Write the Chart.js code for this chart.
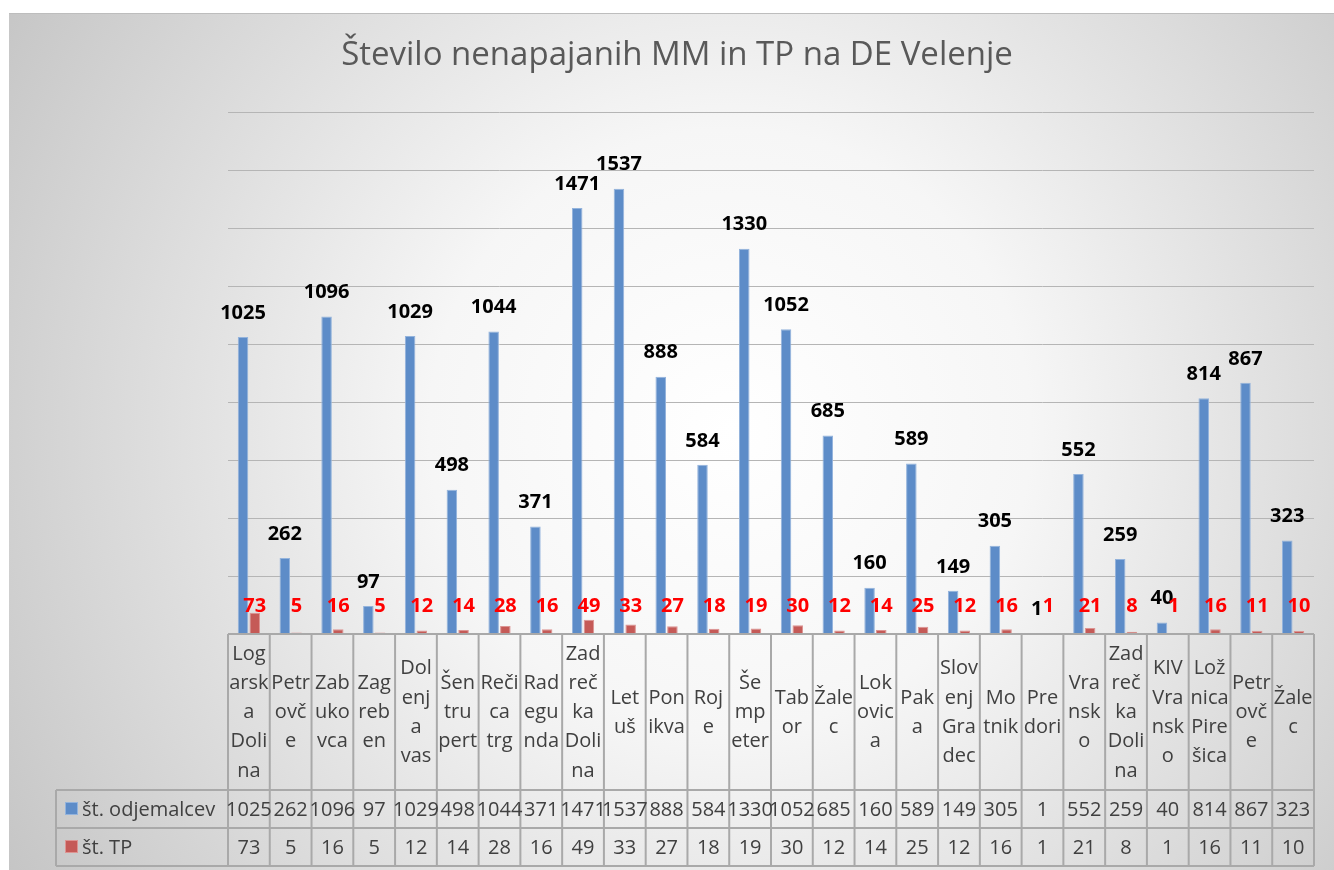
<!DOCTYPE html>
<html>
<head>
<meta charset="utf-8">
<script src="https://cdn.jsdelivr.net/npm/chart.js@4"></script>
<style>
  html, body { margin: 0; padding: 0; background: #fff; }
  #wrap { width: 1334px; height: 870px; position: relative; }
</style>
</head>
<body>
<div id="wrap"><canvas id="chart"></canvas></div>
<script>
// =========================
// Data
// =========================

const naslov = "Število nenapajanih MM in TP na DE Velenje";

const kategorije = [
    "Logarska Dolina", "Petrovče", "Zabukovca", "Zagreben", "Dolenja vas",
    "Šentrupert", "Rečica trg", "Radegunda", "Zadrečka Dolina", "Letuš",
    "Ponikva", "Roje", "Šempeter", "Tabor", "Žalec", "Lokovica", "Paka",
    "Slovenj Gradec", "Motnik", "Predori", "Vransko", "Zadrečka Dolina",
    "KIV Vransko", "Ložnica Pirešica", "Petrovče", "Žalec"
];

// category text as it wraps in the table cells
const oznake = [
    ["Log","arsk","a","Doli","na"], ["Petr","ovč","e"], ["Zab","uko","vca"],
    ["Zag","reb","en"], ["Dol","enj","a","vas"], ["Šen","tru","pert"],
    ["Reči","ca","trg"], ["Rad","egu","nda"], ["Zad","reč","ka","Doli","na"],
    ["Let","uš"], ["Pon","ikva"], ["Roj","e"], ["Še","mp","eter"],
    ["Tab","or"], ["Žale","c"], ["Lok","ovic","a"], ["Pak","a"],
    ["Slov","enj","Gra","dec"], ["Mo","tnik"], ["Pre","dori"],
    ["Vra","nsk","o"], ["Zad","reč","ka","Doli","na"], ["KIV","Vra","nsk","o"],
    ["Lož","nica","Pire","šica"], ["Petr","ovč","e"], ["Žale","c"]
];

const serijaOdjemalci = "št. odjemalcev";
const odjemalci = [1025, 262, 1096, 97, 1029, 498, 1044, 371, 1471, 1537, 888, 584, 1330,
                   1052, 685, 160, 589, 149, 305, 1, 552, 259, 40, 814, 867, 323];

const serijaTP = "št. TP";
const tp = [73, 5, 16, 5, 12, 14, 28, 16, 49, 33, 27, 18, 19,
            30, 12, 14, 25, 12, 16, 1, 21, 8, 1, 16, 11, 10];

const yMax = 1800;
const yKorak = 200;

// =========================
// Styles
// =========================

const MODRA = "#5d8cc8";
const MODRA_ROB = "#93b3dc";
const RDECA = "#c55a57";
const RDECA_ROB = "#dc9492";
const CRTA = "#a9a9a9";
const PISAVA = "'Open Sans', 'Noto Sans', sans-serif";

// =========================
// Plugins
// =========================

const ozadje = {
    id: "ozadje",
    beforeDraw(chart) {
        const ctx = chart.ctx;
        ctx.save();
        ctx.fillStyle = "#fff";
        ctx.fillRect(0, 0, chart.width, chart.height);
        const g = ctx.createRadialGradient(730, 430, 0, 730, 430, 860);
        g.addColorStop(0, "#ffffff");
        g.addColorStop(0.35, "#f6f6f6");
        g.addColorStop(1, "#c4c4c4");
        ctx.fillStyle = g;
        ctx.fillRect(9, 13, chart.width - 9, chart.height - 13);
        ctx.fillStyle = "#bdbdbd";
        ctx.fillRect(9, 13, chart.width - 9, 1);
        ctx.restore();
    }
};

const oznakeVrednosti = {
    id: "oznakeVrednosti",
    afterDatasetsDraw(chart) {
        const ctx = chart.ctx;
        const y = chart.scales.y;
        ctx.save();
        ctx.textAlign = "center";
        ctx.textBaseline = "middle";
        ctx.font = "bold 20px " + PISAVA;

        chart.getDatasetMeta(0).data.forEach((bar, i) => {
            ctx.fillStyle = "#000";
            ctx.fillText(odjemalci[i], bar.x, bar.y - 24);
        });
        const yRdeca = y.getPixelForValue(95);
        chart.getDatasetMeta(1).data.forEach((bar, i) => {
            ctx.fillStyle = "#ff0000";
            ctx.fillText(tp[i], bar.x, yRdeca);
        });
        ctx.restore();
    }
};

const tabela = {
    id: "tabela",
    afterDraw(chart) {
        const ctx = chart.ctx;
        const x = chart.scales.x;
        const area = chart.chartArea;
        const vrh = area.bottom;
        const v1 = x.bottom;
        const visina = 38;
        const v2 = v1 + visina;
        const v3 = v2 + visina;
        const levo = 56;

        const meje = [area.left];
        for (let i = 0; i < kategorije.length - 1; i++) {
            meje.push((x.getPixelForValue(i) + x.getPixelForValue(i + 1)) / 2);
        }
        meje.push(area.right);

        ctx.save();
        ctx.strokeStyle = CRTA;
        ctx.lineWidth = 2;
        ctx.beginPath();
        meje.forEach(m => { ctx.moveTo(m, vrh); ctx.lineTo(m, v3); });
        ctx.moveTo(levo, v1); ctx.lineTo(levo, v3);
        ctx.moveTo(area.left, vrh); ctx.lineTo(area.right, vrh);
        [v1, v2, v3].forEach(v => { ctx.moveTo(levo, v); ctx.lineTo(area.right, v); });
        ctx.stroke();

        // legend keys + names
        ctx.font = "20px " + PISAVA;
        ctx.textBaseline = "middle";
        const vrstice = [
            { ime: serijaOdjemalci, barva: MODRA, rob: MODRA_ROB, vrednosti: odjemalci, y: (v1 + v2) / 2 },
            { ime: serijaTP, barva: RDECA, rob: RDECA_ROB, vrednosti: tp, y: (v2 + v3) / 2 }
        ];
        vrstice.forEach(r => {
            ctx.fillStyle = r.rob;
            ctx.fillRect(levo + 9, r.y - 7, 13, 13);
            ctx.fillStyle = r.barva;
            ctx.fillRect(levo + 10, r.y - 6, 11, 11);
            ctx.fillStyle = "#404040";
            ctx.textAlign = "left";
            ctx.fillText(r.ime, levo + 26, r.y + 1);
            ctx.textAlign = "center";
            r.vrednosti.forEach((v, i) => {
                ctx.fillText(v, x.getPixelForValue(i), r.y + 1);
            });
        });
        ctx.restore();
    }
};

// =========================
// Chart
// =========================

new Chart(document.getElementById("chart"), {
    type: "bar",
    data: {
        labels: oznake,
        datasets: [
            {
                label: serijaOdjemalci,
                data: odjemalci,
                backgroundColor: MODRA,
                borderColor: MODRA_ROB,
                borderWidth: 1,
                categoryPercentage: 0.56,
                barPercentage: 0.9
            },
            {
                label: serijaTP,
                data: tp,
                backgroundColor: RDECA,
                borderColor: RDECA_ROB,
                borderWidth: 1,
                categoryPercentage: 0.56,
                barPercentage: 0.9
            }
        ]
    },
    options: {
        responsive: true,
        maintainAspectRatio: false,
        animation: false,
        layout: { padding: { left: 20, right: 0, top: 36, bottom: 80 } },
        plugins: {
            legend: { display: false },
            tooltip: { enabled: false },
            title: {
                display: true,
                text: naslov,
                color: "#595959",
                font: { family: PISAVA, size: 33, weight: "normal", lineHeight: 1.2 },
                padding: { top: 0, bottom: 37 }
            }
        },
        scales: {
            x: {
                grid: { display: false, drawTicks: false },
                border: { display: false },
                ticks: {
                    autoSkip: false,
                    maxRotation: 0,
                    minRotation: 0,
                    padding: 20,
                    crossAlign: "center",
                    color: "#404040",
                    font: { family: PISAVA, size: 20, lineHeight: 1.46 }
                },
                afterFit(s) { s.height = 156; }
            },
            y: {
                min: 0,
                max: yMax,
                grid: { color: "#b5b5b5", lineWidth: 1, drawTicks: false },
                border: { display: false },
                ticks: { display: false, stepSize: yKorak },
                afterFit(s) { s.width = 208; }
            },
            desno: {
                position: "right",
                grid: { display: false, drawTicks: false },
                border: { display: false },
                ticks: { display: false },
                afterFit(s) { s.width = 20; }
            }
        }
    },
    plugins: [ozadje, oznakeVrednosti, tabela]
});
</script>
</body>
</html>
